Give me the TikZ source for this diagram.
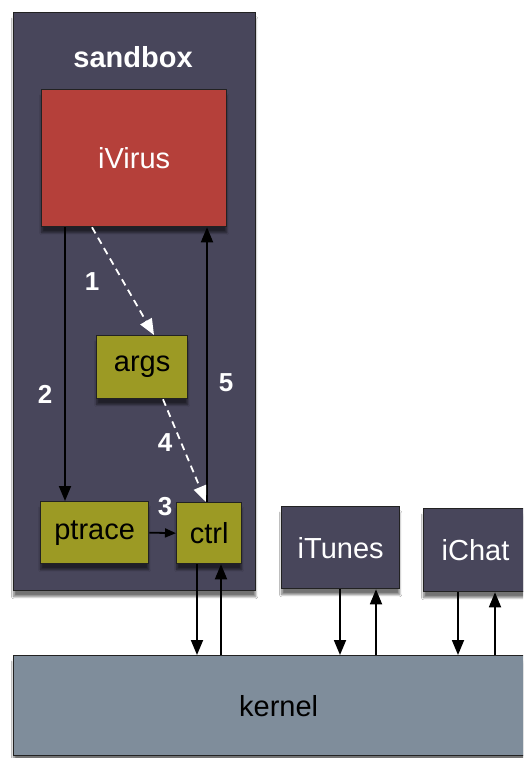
\documentclass[tikz,border=0pt]{standalone}
\usepackage{fontspec}
\setmainfont{Liberation Sans}
\usetikzlibrary{arrows.meta,shadows.blur}
\definecolor{slate}{HTML}{48465B}
\definecolor{virusred}{HTML}{B5403A}
\definecolor{olive}{HTML}{9C9A24}
\definecolor{kernelc}{HTML}{7F8D9B}
\definecolor{edge}{HTML}{222222}
\begin{document}
\begin{tikzpicture}[x=1pt,y=-1pt,
  box/.style={draw=edge,line width=1.3pt,anchor=north west,inner sep=0pt,
    font=\fontsize{29}{32}\selectfont,
    blur shadow={shadow xshift=0pt,shadow yshift=-6pt,shadow blur steps=8,shadow opacity=55}},
  darkbox/.style={box,fill=slate,text=white},
  olivebox/.style={box,fill=olive,text=black},
  arr/.style={line width=1.8pt,draw=black,-{Triangle[length=15pt,width=12pt]}},
  dasharr/.style={line width=1.8pt,draw=white,dashed,dash pattern=on 7pt off 5pt,
    -{Triangle[length=16pt,width=13pt,fill=white]}},
  num/.style={text=white,font=\bfseries\fontsize{26}{28}\selectfont,inner sep=0pt}]
\useasboundingbox (0,0) rectangle (523,758);
\clip (0,0) rectangle (523,758);
\fill[white] (0,0) rectangle (523,758);
% containers
\node[darkbox,minimum width=242pt,minimum height=578pt] (sandbox) at (13,12) {};
\node[text=white,font=\bfseries\fontsize{29}{32}\selectfont] (sblabel) at (133,57) {sandbox};
\node[box,fill=kernelc,minimum width=530pt,minimum height=100pt,text=black] (kernel) at (13,655) {kernel};
% boxes
\node[box,fill=virusred,text=white,minimum width=185pt,minimum height=137pt] (ivirus) at (41,89) {iVirus};
\node[olivebox,minimum width=91pt,minimum height=63pt] (args) at (96,335) {args};
\node[olivebox,minimum width=108pt,minimum height=62pt] (ptrace) at (40,501) {ptrace};
\node[olivebox,minimum width=65pt,minimum height=61pt] (ctrl) at (176,502) {ctrl};
\node[darkbox,minimum width=118pt,minimum height=82pt] (itunes) at (281,506) {iTunes};
\node[darkbox,minimum width=110pt,minimum height=83pt,text width=110pt,align=left] (ichat) at (423,508) {\hspace{18pt}iChat};
% arrows inside sandbox
\draw[arr] (ivirus.south -| 65,0) -- (ptrace.north -| 65,0);
\draw[arr] (ctrl.north -| 207,0) -- (ivirus.south -| 207,0);
\draw[arr,-{Triangle[length=11pt,width=9pt]}] (ptrace.east) -- (ctrl.west);
\draw[dasharr] (ivirus.south -| 92,0) -- (args.north -| 154,0);
\draw[dasharr] (args.south -| 163,0) -- (ctrl.north -| 206,0);
% numbers
\node[num] (n1) at (92,282) {1};
\node[num] (n2) at (45,394) {2};
\node[num] (n3) at (165,507) {3};
\node[num] (n4) at (165,443) {4};
\node[num] (n5) at (226,383) {5};
% kernel arrows
\draw[arr] (ctrl.south -| 197,0) -- (kernel.north -| 197,0);
\draw[arr] (kernel.north -| 221,0) -- (ctrl.south -| 221,0);
\draw[arr] (itunes.south -| 340,0) -- (kernel.north -| 340,0);
\draw[arr] (kernel.north -| 376,0) -- (itunes.south -| 376,0);
\draw[arr] (ichat.south -| 458,0) -- (kernel.north -| 458,0);
\draw[arr] (kernel.north -| 495,0) -- (ichat.south -| 495,0);
\end{tikzpicture}
\end{document}
